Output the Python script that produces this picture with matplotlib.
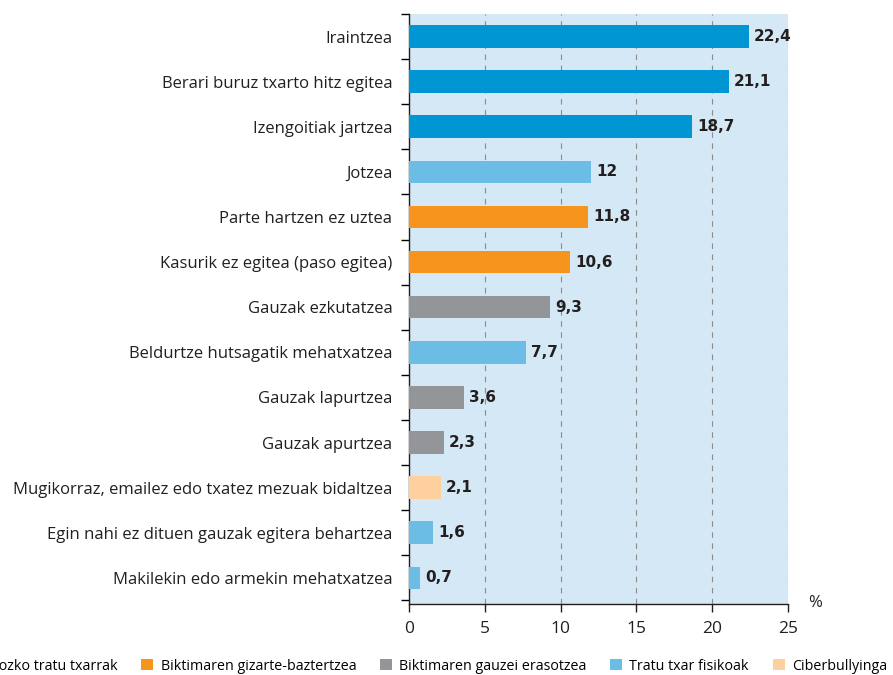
import matplotlib
matplotlib.use("Agg")
import matplotlib.pyplot as plt
from matplotlib.patches import Patch

labels = [
    "Iraintzea",
    "Berari buruz txarto hitz egitea",
    "Izengoitiak jartzea",
    "Jotzea",
    "Parte hartzen ez uztea",
    "Kasurik ez egitea (paso egitea)",
    "Gauzak ezkutatzea",
    "Beldurtze hutsagatik mehatxatzea",
    "Gauzak lapurtzea",
    "Gauzak apurtzea",
    "Mugikorraz, emailez edo txatez mezuak bidaltzea",
    "Egin nahi ez dituen gauzak egitera behartzea",
    "Makilekin edo armekin mehatxatzea",
]
values = [22.4, 21.1, 18.7, 12, 11.8, 10.6, 9.3, 7.7, 3.6, 2.3, 2.1, 1.6, 0.7]
groups = [0, 0, 0, 3, 1, 1, 2, 3, 2, 2, 4, 3, 3]

group_names = [
    "Ahozko tratu txarrak",
    "Biktimaren gizarte-baztertzea",
    "Biktimaren gauzei erasotzea",
    "Tratu txar fisikoak",
    "Ciberbullyinga",
]
group_colors = ["#0095d3", "#f7941d", "#939598", "#6cbde6", "#fdd09d"]

plt.rcParams["font.family"] = ["Open Sans", "DejaVu Sans"]

fig = plt.figure(figsize=(8.93, 6.75), dpi=100)
ax = fig.add_axes([409 / 893, 71 / 675, 379 / 893, 590 / 675])
ax.set_facecolor("#d4e8f5")

ypos = list(range(len(labels)))
colors = [group_colors[g] for g in groups]
ax.barh(ypos, values, height=0.5, color=colors, zorder=3)

for y, v in zip(ypos, values):
    txt = ("%g" % v).replace(".", ",")
    ax.text(v + 0.35, y, txt, va="center", ha="left", fontsize=11,
            fontweight="bold", color="#231f20", family="DejaVu Sans")

ax.set_xlim(0, 25)
ax.set_ylim(12.58, -0.5)
ax.set_xticks([0, 5, 10, 15, 20, 25])
ax.set_yticks(ypos)
ax.set_yticklabels(labels, fontsize=12, color="#231f20")
ax.set_yticks([i - 0.5 for i in range(len(labels) + 1)], minor=True)
ax.tick_params(axis="y", which="major", length=0, pad=12)
ax.tick_params(axis="y", which="minor", length=6, direction="out", width=1)
ax.tick_params(axis="x", length=6, width=1, labelsize=12.5, pad=6, colors="#231f20")
ax.xaxis.grid(True, linestyle=(0, (5, 5)), color="#8c8c8c", linewidth=0.8, zorder=1)
for s in ["top", "right"]:
    ax.spines[s].set_visible(False)
for s in ["left", "bottom"]:
    ax.spines[s].set_color("#231f20")
    ax.spines[s].set_linewidth(1)

fig.text(815 / 893, 1 - 603 / 675, "%", fontsize=12, ha="center", va="center", color="#231f20")

handles = [Patch(facecolor=c, edgecolor="none") for c in group_colors]
fig.legend(handles, group_names, loc="center left", bbox_to_anchor=(-44 / 893, 1 - 666 / 675),
           ncol=5, frameon=False, fontsize=10.3, handlelength=0.85, handleheight=0.85,
           handletextpad=0.5, columnspacing=1.65, borderaxespad=0)

fig.savefig("out.png", dpi=100)
